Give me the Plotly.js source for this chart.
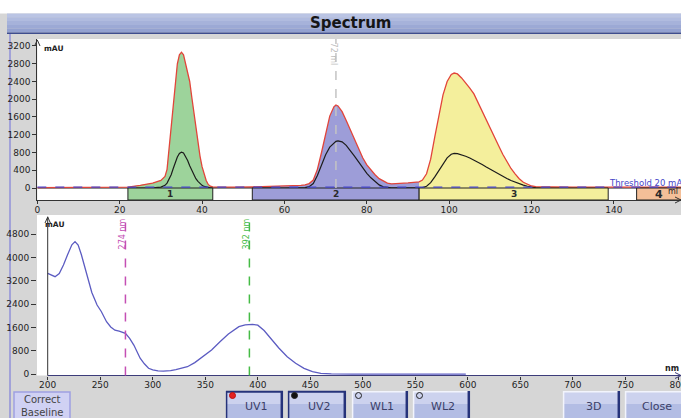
<!DOCTYPE html>
<html><head><meta charset="utf-8">
<script src="https://cdn.plot.ly/plotly-3.0.1.min.js"></script>
<style>html,body{margin:0;padding:0;background:#d6d6d6;overflow:hidden}#chart{width:681px;height:418px}</style>
</head><body><div id="chart"></div>
<script>
// ---------------- DATA ----------------
// Chromatogram (top panel)
const volumeMl = [0,5,10,15,20,22,25,28,30,
  31,31.5,32,32.5,33,33.5,34,34.5,35,35.5,36,36.5,37,37.5,38,38.5,39,39.5,40,40.5,41,41.5,42,42.6,
  45,48,52.2,55,58,60,62,64,65,66,67,68,69,70,71,72,72.5,73,74,75,76,77,78,79,80,81,82,83,84,85,86,88,90,92.7,
  93.5,94.5,95.5,96.5,97.5,98.5,99.5,100.5,101.2,102,103,104,105,106,107,108,109,110,111,112,113,114,115,116,117,118,119,120,121,122,
  125,130,135,138.6,140,145.5,150,157];
const uv1Mau = [8,8,8,10,14,20,60,110,170,
  260,420,900,1500,1950,2400,2800,3000,3060,3000,2820,2600,2400,2050,1700,1350,1000,720,480,300,170,80,40,25,
  20,20,25,30,40,45,50,60,70,100,180,420,800,1250,1620,1830,1870,1850,1720,1520,1300,1080,880,680,520,400,300,210,150,110,95,100,115,140,
  180,320,650,1150,1650,2100,2400,2560,2590,2570,2480,2370,2250,2120,1920,1720,1520,1320,1130,950,760,590,440,320,210,130,80,45,30,25,
  22,20,20,20,20,20,20,20];
const uv2Mau = [0,0,0,0,0,0,2,5,20,
  60,110,200,300,440,580,700,780,805,790,720,620,500,390,290,210,150,100,60,35,20,10,5,3,
  0,0,0,0,0,0,0,5,10,30,100,280,520,750,920,1020,1050,1060,1040,960,850,720,590,450,330,230,140,70,25,10,5,3,2,5,
  10,40,120,250,400,540,680,760,780,775,750,715,675,630,580,530,475,420,365,310,260,215,170,130,95,65,40,20,10,5,
  3,2,0,0,0,0,0,0];
const fractionStartMl = [22, 52.2, 92.7, 145.5];
const fractionEndMl = [42.6, 92.7, 138.6, 160];
const fractionLabels = ['1', '2', '3', '4'];
const fractionColors = ['#9dd39b', '#9d9dd8', '#f4ef9c', '#f4bf98'];
const thresholdMau = 20;
const thresholdLabel = 'Threshold 20 mAU';
const markerMl = 72.5;
const markerLabel = '72 ml';
const topXTicks = [0, 20, 40, 60, 80, 100, 120, 140, 160];
const topYTicks = [0, 400, 800, 1200, 1600, 2000, 2400, 2800, 3200];

// Spectrum (bottom panel)
const wavelengthNm = [200,204,207,211,215,219,223,226,229,232,235,239,242,247,251,256,260,264,268,274,278,282,285,288,292,296,300,305,310,317,322,327,333,340,348,356,364,372,382,388,395,400,406,412,420,428,436,444,452,460,470,490,520,550,580,598];
const absorbanceMau = [3455,3380,3340,3450,3740,4100,4430,4540,4420,4100,3700,3150,2800,2370,2150,1800,1620,1510,1480,1400,1230,1000,760,550,360,205,150,115,110,123,160,200,260,400,600,830,1115,1380,1630,1690,1710,1680,1500,1230,900,600,380,205,90,35,12,6,5,4,4,4];
const wavelengthMarkersNm = [274, 392];
const wavelengthMarkerLabels = ['274 nm', '392 nm'];
const wavelengthMarkerColors = ['#c44fb4', '#45bb45'];
const bottomXTicks = [200, 250, 300, 350, 400, 450, 500, 550, 600, 650, 700, 750, 800];
const bottomYTicks = [0, 800, 1600, 2400, 3200, 4000, 4800];

// ---------------- LAYOUT GEOMETRY ----------------
const W = 681, H = 418;
const px = v => v / W;
const py = v => 1 - v / H;

const topL = 37.3, topTopPx = 39, topBotPx = 200, topZeroPx = 188;
const topPxPerMl = 4.119, topPxPerMau = 0.04438;
const topXRange = [0, (W - topL) / topPxPerMl];
const topYRange = [-(topBotPx - topZeroPx) / topPxPerMau, (topZeroPx - topTopPx) / topPxPerMau];

const botL = 37, botAxisPx = 47.7, botTopPx = 215, botBotPx = 375.5, botZeroPx = 374.3;
const botPxPerNm = 1.0505, botPxPerMau = 0.02923;
const botXRange = [200 - (botAxisPx - botL) / botPxPerNm, 200 + (W - botAxisPx) / botPxPerNm];
const botYRange = [-(botBotPx - botZeroPx) / botPxPerMau, (botZeroPx - botTopPx) / botPxPerMau];

const FONT = 'DejaVu Sans, Verdana, sans-serif';
const tickFont = {family: FONT, size: 9, color: '#1e1e1e'};

function pathPx(pts, close) {
  return pts.map((p, i) => (i ? 'L' : 'M') + px(p[0]).toFixed(5) + ',' + py(p[1]).toFixed(5)).join(' ') + (close ? ' Z' : '');
}

// ---------------- TRACES ----------------
const traces = [];
fractionStartMl.forEach((s, i) => {
  const xs = [], ys = [];
  volumeMl.forEach((v, j) => { if (v >= s && v <= fractionEndMl[i]) { xs.push(v); ys.push(uv1Mau[j]); } });
  traces.push({x: xs, y: ys, xaxis: 'x', yaxis: 'y', type: 'scatter', mode: 'lines',
    fill: 'tozeroy', fillcolor: fractionColors[i], line: {width: 0, color: fractionColors[i]}, hoverinfo: 'skip'});
});
traces.push({x: volumeMl, y: uv2Mau, xaxis: 'x', yaxis: 'y', type: 'scatter', mode: 'lines',
  line: {color: '#1c1c1c', width: 1.2}, hoverinfo: 'skip'});
traces.push({x: volumeMl, y: uv1Mau, xaxis: 'x', yaxis: 'y', type: 'scatter', mode: 'lines',
  line: {color: '#e2453a', width: 1.3}, hoverinfo: 'skip'});
traces.push({x: wavelengthNm, y: absorbanceMau, xaxis: 'x2', yaxis: 'y2', type: 'scatter', mode: 'lines',
  line: {color: '#5c5cc2', width: 1.3}, hoverinfo: 'skip'});

// ---------------- SHAPES ----------------
const shapes = [];
shapes.push({type: 'rect', xref: 'paper', yref: 'paper', x0: 0, x1: 1, y0: py(13.5), y1: 1, fillcolor: '#ffffff', line: {width: 0}, layer: 'below'});
const barCols = ['#bac4e4', '#b0bbdf', '#a6b2da', '#9ca9d5', '#93a1d0'];
const barTop = 13.5, barBot = 32.5, bh = (barBot - barTop) / barCols.length;
barCols.forEach((c, i) => shapes.push({type: 'rect', xref: 'paper', yref: 'paper', x0: px(7), x1: 1,
  y0: py(barTop + (i + 1) * bh), y1: py(barTop + i * bh), fillcolor: c, line: {width: 0}, layer: 'below'}));
shapes.push({type: 'line', xref: 'paper', yref: 'paper', x0: px(7), x1: 1, y0: py(33.2), y1: py(33.2), line: {color: '#3e4d8e', width: 1.6}, layer: 'below'});
shapes.push({type: 'line', xref: 'paper', yref: 'paper', x0: px(10), x1: px(10), y0: 0, y1: py(34), line: {color: '#a2a2d8', width: 2}, layer: 'below'});

fractionStartMl.forEach((s, i) => shapes.push({type: 'rect', xref: 'x', yref: 'y', x0: s, x1: fractionEndMl[i],
  y0: topYRange[0], y1: 0, fillcolor: fractionColors[i], line: {color: '#222', width: 1}, layer: 'above'}));
shapes.push({type: 'line', xref: 'x', yref: 'y', x0: topXRange[0], x1: topXRange[1], y0: thresholdMau, y1: thresholdMau,
  line: {color: '#4646cc', width: 1.3, dash: 'dash'}, layer: 'above'});
shapes.push({type: 'line', xref: 'x', yref: 'y domain', x0: markerMl, x1: markerMl, y0: (0 - topYRange[0]) / (topYRange[1] - topYRange[0]), y1: 1,
  line: {color: '#c4c4c4', width: 1.5, dash: 'dash'}, layer: 'above'});

shapes.push({type: 'line', xref: 'x2', yref: 'y2 domain', x0: 200, x1: 200, y0: 0, y1: 0.99, line: {color: '#333', width: 1}});
shapes.push({type: 'line', xref: 'x2', yref: 'y2 domain', x0: 200, x1: botXRange[1], y0: 0, y1: 0, line: {color: '#3c3c7a', width: 1.2}});
wavelengthMarkersNm.forEach((w, i) => shapes.push({type: 'line', xref: 'x2', yref: 'y2 domain', x0: w, x1: w, y0: 0, y1: 1,
  line: {color: wavelengthMarkerColors[i], width: 1.5, dash: 'dash'}}));

const arrow = {color: '#333', width: 1};
shapes.push({type: 'path', xref: 'paper', yref: 'paper', path: pathPx([[34.6, 46], [37.3, 40], [40, 46]]), line: arrow});
shapes.push({type: 'path', xref: 'paper', yref: 'paper', path: pathPx([[675, 197], [681, 200], [675, 203]]), line: arrow});
shapes.push({type: 'path', xref: 'paper', yref: 'paper', path: pathPx([[45, 223], [47.7, 217], [50.4, 223]]), line: arrow});
shapes.push({type: 'path', xref: 'paper', yref: 'paper', path: pathPx([[675, 372.5], [681, 375.5], [675, 378.5]]), line: {color: '#3c3c7a', width: 1}});

const buttons = [
  {label: 'UV1', x0: 226, x1: 283, pressed: true, dot: 'red'},
  {label: 'UV2', x0: 288, x1: 346, pressed: true, dot: 'black'},
  {label: 'WL1', x0: 352, x1: 408, pressed: false, dot: 'hollow'},
  {label: 'WL2', x0: 413, x1: 470, pressed: false, dot: 'hollow'},
  {label: '3D', x0: 563, x1: 620, pressed: false},
  {label: 'Close', x0: 625, x1: 684, pressed: false}
];
const bTop = 391, bMid = 404, bBot = 420;
const annotations = [];
buttons.forEach(b => {
  shapes.push({type: 'rect', xref: 'paper', yref: 'paper', x0: px(b.x0), x1: px(b.x1), y0: py(bMid), y1: py(bTop), fillcolor: '#ccd2ee', line: {width: 0}});
  shapes.push({type: 'rect', xref: 'paper', yref: 'paper', x0: px(b.x0), x1: px(b.x1), y0: py(bBot), y1: py(bMid), fillcolor: '#b3bde4', line: {width: 0}});
  const edge = b.pressed ? '#26337a' : '#f2f4fc';
  shapes.push({type: 'line', xref: 'paper', yref: 'paper', x0: px(b.x0), x1: px(b.x1), y0: py(bTop + 0.8), y1: py(bTop + 0.8), line: {color: edge, width: b.pressed ? 2 : 1.5}});
  shapes.push({type: 'line', xref: 'paper', yref: 'paper', x0: px(b.x0 + 0.6), x1: px(b.x0 + 0.6), y0: 0, y1: py(bTop), line: {color: edge, width: 1.5}});
  shapes.push({type: 'line', xref: 'paper', yref: 'paper', x0: px(b.x1 - 1.2), x1: px(b.x1 - 1.2), y0: 0, y1: py(bTop), line: {color: '#26337a', width: 2.5}});
  if (b.dot) {
    const cx = b.x0 + 6.5, cy = bTop + 4.5, r = 3;
    shapes.push({type: 'circle', xref: 'paper', yref: 'paper', x0: px(cx - r), x1: px(cx + r), y0: py(cy + r), y1: py(cy - r),
      fillcolor: b.dot === 'red' ? '#e42222' : (b.dot === 'black' ? '#111' : 'rgba(0,0,0,0)'),
      line: {color: b.dot === 'red' ? '#c01010' : '#222', width: 1}});
  }
  annotations.push({xref: 'paper', yref: 'paper', x: px((b.x0 + b.x1) / 2 + 2), y: py(406.5), text: b.label, showarrow: false,
    font: {family: FONT, size: 11, color: '#3b4068'}, xanchor: 'center', yanchor: 'middle'});
});
shapes.push({type: 'rect', xref: 'paper', yref: 'paper', x0: px(14), x1: px(70), y0: py(419), y1: py(392), fillcolor: '#d0d1f3', line: {color: '#9ea0e2', width: 1.5}});
annotations.push({xref: 'paper', yref: 'paper', x: px(42), y: py(405.5), text: 'Correct<br>Baseline', showarrow: false,
  font: {family: FONT, size: 10, color: '#444'}, xanchor: 'center', yanchor: 'middle', align: 'center'});

// ---------------- ANNOTATIONS ----------------
annotations.push({xref: 'paper', yref: 'paper', x: px(350), y: py(23), text: '<b>Spectrum</b>', showarrow: false,
  font: {family: FONT, size: 15, color: '#161616'}, xanchor: 'center', yanchor: 'middle'});
fractionLabels.forEach((l, i) => annotations.push({xref: 'x', yref: 'y', x: (fractionStartMl[i] + Math.min(fractionEndMl[i], topXRange[1])) / 2,
  y: topYRange[0] / 2, text: '<b>' + l + '</b>', showarrow: false, font: {family: FONT, size: i === 3 ? 11 : 9, color: '#2a2a2a'},
  xanchor: 'center', yanchor: 'middle'}));
annotations.push({xref: 'paper', yref: 'paper', x: px(606.5), y: py(183), text: thresholdLabel, showarrow: false,
  font: {family: FONT, size: 8.5, color: '#4646c8'}, xanchor: 'left', yanchor: 'middle'});
annotations.push({xref: 'x', yref: 'paper', x: markerMl, xshift: -2, y: py(41), text: markerLabel, textangle: 90, showarrow: false,
  font: {family: FONT, size: 8, color: '#bdbdbd'}, xanchor: 'center', yanchor: 'top'});
annotations.push({xref: 'paper', yref: 'paper', x: px(42), y: py(48.5), text: '<b>mAU</b>', showarrow: false,
  font: {family: FONT, size: 7.5, color: '#222'}, xanchor: 'left', yanchor: 'middle'});
annotations.push({xref: 'paper', yref: 'paper', x: px(666), y: py(192), text: 'ml', showarrow: false,
  font: {family: FONT, size: 8, color: '#222'}, xanchor: 'left', yanchor: 'middle'});
annotations.push({xref: 'paper', yref: 'paper', x: px(43), y: py(224.5), text: '<b>mAU</b>', showarrow: false,
  font: {family: FONT, size: 7.5, color: '#222'}, xanchor: 'left', yanchor: 'middle'});
annotations.push({xref: 'paper', yref: 'paper', x: px(663), y: py(368), text: '<b>nm</b>', showarrow: false,
  font: {family: FONT, size: 8, color: '#222'}, xanchor: 'left', yanchor: 'middle'});
wavelengthMarkersNm.forEach((w, i) => annotations.push({xref: 'x2', yref: 'paper', x: w, xshift: -2, y: py(216.5),
  text: wavelengthMarkerLabels[i], textangle: -90, showarrow: false,
  font: {family: FONT, size: 8, color: wavelengthMarkerColors[i]}, xanchor: 'center', yanchor: 'top'}));

// ---------------- LAYOUT ----------------
const common = {showgrid: false, zeroline: false, tickfont: tickFont, automargin: false, fixedrange: true, tickcolor: '#333'};
const layout = {
  width: W, height: H, autosize: false,
  margin: {l: 0, r: 0, t: 0, b: 0, pad: 0},
  paper_bgcolor: '#d6d6d6', plot_bgcolor: '#ffffff',
  showlegend: false, hovermode: false, dragmode: false,
  xaxis: Object.assign({domain: [px(topL), 1], range: topXRange, anchor: 'y', tickvals: topXTicks, ticks: 'outside', ticklen: 3,
    showline: true, linecolor: '#333', linewidth: 1, ticklabelstandoff: -2, ticklabeloverflow: 'allow'}, common),
  yaxis: Object.assign({domain: [py(topBotPx), py(topTopPx)], range: topYRange, anchor: 'x', tickvals: topYTicks, ticks: 'outside', ticklen: 4,
    showline: true, linecolor: '#333', linewidth: 1}, common),
  xaxis2: Object.assign({domain: [px(botL), 1], range: botXRange, anchor: 'y2', tickvals: bottomXTicks, ticks: 'outside', ticklen: 3,
    showline: false, ticklabelstandoff: -2, ticklabeloverflow: 'allow'}, common),
  yaxis2: Object.assign({domain: [py(botBotPx), py(botTopPx)], range: botYRange, anchor: 'x2', tickvals: bottomYTicks, ticks: 'outside', ticklen: 5,
    showline: false}, common),
  shapes: shapes,
  annotations: annotations
};

Plotly.newPlot('chart', traces, layout, {staticPlot: true, displayModeBar: false});
</script>
</body></html>
